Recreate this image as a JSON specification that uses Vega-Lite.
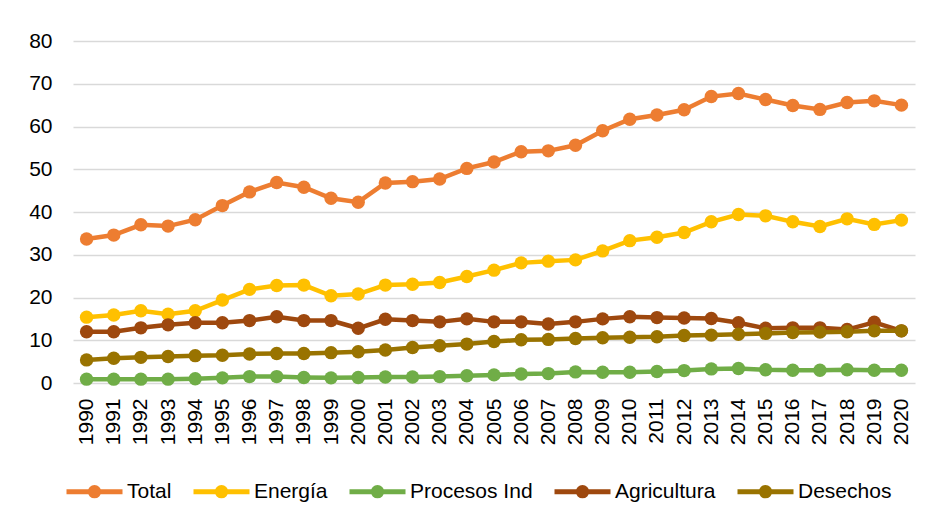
{
  "$schema": "https://vega.github.io/schema/vega-lite/v6.json",
  "width": 842,
  "height": 342,
  "autosize": {"type": "none"},
  "padding": {"left": 73, "top": 41, "right": 14, "bottom": 139},
  "background": "white",
  "config": {"view": {"stroke": null}, "font": "Liberation Sans"},
  "data": {"values": [
    {"anio":"1990","serie":"Total","valor":33.7},{"anio":"1991","serie":"Total","valor":34.6},{"anio":"1992","serie":"Total","valor":37.0},{"anio":"1993","serie":"Total","valor":36.7},{"anio":"1994","serie":"Total","valor":38.2},{"anio":"1995","serie":"Total","valor":41.5},{"anio":"1996","serie":"Total","valor":44.7},{"anio":"1997","serie":"Total","valor":46.9},{"anio":"1998","serie":"Total","valor":45.8},{"anio":"1999","serie":"Total","valor":43.2},{"anio":"2000","serie":"Total","valor":42.3},{"anio":"2001","serie":"Total","valor":46.8},{"anio":"2002","serie":"Total","valor":47.1},{"anio":"2003","serie":"Total","valor":47.7},{"anio":"2004","serie":"Total","valor":50.2},{"anio":"2005","serie":"Total","valor":51.7},{"anio":"2006","serie":"Total","valor":54.1},{"anio":"2007","serie":"Total","valor":54.3},{"anio":"2008","serie":"Total","valor":55.6},{"anio":"2009","serie":"Total","valor":59.0},{"anio":"2010","serie":"Total","valor":61.7},{"anio":"2011","serie":"Total","valor":62.7},{"anio":"2012","serie":"Total","valor":63.9},{"anio":"2013","serie":"Total","valor":67.0},{"anio":"2014","serie":"Total","valor":67.7},{"anio":"2015","serie":"Total","valor":66.3},{"anio":"2016","serie":"Total","valor":64.9},{"anio":"2017","serie":"Total","valor":64.0},{"anio":"2018","serie":"Total","valor":65.6},{"anio":"2019","serie":"Total","valor":66.0},{"anio":"2020","serie":"Total","valor":65.0},
    {"anio":"1990","serie":"Energía","valor":15.4},{"anio":"1991","serie":"Energía","valor":15.9},{"anio":"1992","serie":"Energía","valor":16.9},{"anio":"1993","serie":"Energía","valor":16.1},{"anio":"1994","serie":"Energía","valor":16.9},{"anio":"1995","serie":"Energía","valor":19.4},{"anio":"1996","serie":"Energía","valor":21.9},{"anio":"1997","serie":"Energía","valor":22.8},{"anio":"1998","serie":"Energía","valor":22.9},{"anio":"1999","serie":"Energía","valor":20.4},{"anio":"2000","serie":"Energía","valor":20.8},{"anio":"2001","serie":"Energía","valor":22.9},{"anio":"2002","serie":"Energía","valor":23.1},{"anio":"2003","serie":"Energía","valor":23.5},{"anio":"2004","serie":"Energía","valor":24.9},{"anio":"2005","serie":"Energía","valor":26.4},{"anio":"2006","serie":"Energía","valor":28.1},{"anio":"2007","serie":"Energía","valor":28.5},{"anio":"2008","serie":"Energía","valor":28.8},{"anio":"2009","serie":"Energía","valor":30.9},{"anio":"2010","serie":"Energía","valor":33.3},{"anio":"2011","serie":"Energía","valor":34.1},{"anio":"2012","serie":"Energía","valor":35.2},{"anio":"2013","serie":"Energía","valor":37.7},{"anio":"2014","serie":"Energía","valor":39.4},{"anio":"2015","serie":"Energía","valor":39.1},{"anio":"2016","serie":"Energía","valor":37.7},{"anio":"2017","serie":"Energía","valor":36.6},{"anio":"2018","serie":"Energía","valor":38.4},{"anio":"2019","serie":"Energía","valor":37.1},{"anio":"2020","serie":"Energía","valor":38.1},
    {"anio":"1990","serie":"Procesos Ind","valor":0.9},{"anio":"1991","serie":"Procesos Ind","valor":0.9},{"anio":"1992","serie":"Procesos Ind","valor":0.9},{"anio":"1993","serie":"Procesos Ind","valor":0.9},{"anio":"1994","serie":"Procesos Ind","valor":1.0},{"anio":"1995","serie":"Procesos Ind","valor":1.2},{"anio":"1996","serie":"Procesos Ind","valor":1.5},{"anio":"1997","serie":"Procesos Ind","valor":1.5},{"anio":"1998","serie":"Procesos Ind","valor":1.3},{"anio":"1999","serie":"Procesos Ind","valor":1.2},{"anio":"2000","serie":"Procesos Ind","valor":1.3},{"anio":"2001","serie":"Procesos Ind","valor":1.4},{"anio":"2002","serie":"Procesos Ind","valor":1.4},{"anio":"2003","serie":"Procesos Ind","valor":1.5},{"anio":"2004","serie":"Procesos Ind","valor":1.7},{"anio":"2005","serie":"Procesos Ind","valor":1.9},{"anio":"2006","serie":"Procesos Ind","valor":2.1},{"anio":"2007","serie":"Procesos Ind","valor":2.2},{"anio":"2008","serie":"Procesos Ind","valor":2.6},{"anio":"2009","serie":"Procesos Ind","valor":2.5},{"anio":"2010","serie":"Procesos Ind","valor":2.5},{"anio":"2011","serie":"Procesos Ind","valor":2.7},{"anio":"2012","serie":"Procesos Ind","valor":2.9},{"anio":"2013","serie":"Procesos Ind","valor":3.3},{"anio":"2014","serie":"Procesos Ind","valor":3.4},{"anio":"2015","serie":"Procesos Ind","valor":3.1},{"anio":"2016","serie":"Procesos Ind","valor":3.0},{"anio":"2017","serie":"Procesos Ind","valor":3.0},{"anio":"2018","serie":"Procesos Ind","valor":3.1},{"anio":"2019","serie":"Procesos Ind","valor":3.0},{"anio":"2020","serie":"Procesos Ind","valor":3.0},
    {"anio":"1990","serie":"Agricultura","valor":12.0},{"anio":"1991","serie":"Agricultura","valor":12.0},{"anio":"1992","serie":"Agricultura","valor":12.9},{"anio":"1993","serie":"Agricultura","valor":13.6},{"anio":"1994","serie":"Agricultura","valor":14.1},{"anio":"1995","serie":"Agricultura","valor":14.1},{"anio":"1996","serie":"Agricultura","valor":14.6},{"anio":"1997","serie":"Agricultura","valor":15.5},{"anio":"1998","serie":"Agricultura","valor":14.6},{"anio":"1999","serie":"Agricultura","valor":14.6},{"anio":"2000","serie":"Agricultura","valor":12.8},{"anio":"2001","serie":"Agricultura","valor":14.9},{"anio":"2002","serie":"Agricultura","valor":14.6},{"anio":"2003","serie":"Agricultura","valor":14.3},{"anio":"2004","serie":"Agricultura","valor":15.0},{"anio":"2005","serie":"Agricultura","valor":14.3},{"anio":"2006","serie":"Agricultura","valor":14.3},{"anio":"2007","serie":"Agricultura","valor":13.8},{"anio":"2008","serie":"Agricultura","valor":14.3},{"anio":"2009","serie":"Agricultura","valor":15.0},{"anio":"2010","serie":"Agricultura","valor":15.5},{"anio":"2011","serie":"Agricultura","valor":15.3},{"anio":"2012","serie":"Agricultura","valor":15.2},{"anio":"2013","serie":"Agricultura","valor":15.1},{"anio":"2014","serie":"Agricultura","valor":14.1},{"anio":"2015","serie":"Agricultura","valor":12.8},{"anio":"2016","serie":"Agricultura","valor":12.9},{"anio":"2017","serie":"Agricultura","valor":12.9},{"anio":"2018","serie":"Agricultura","valor":12.5},{"anio":"2019","serie":"Agricultura","valor":14.2},{"anio":"2020","serie":"Agricultura","valor":12.2},
    {"anio":"1990","serie":"Desechos","valor":5.4},{"anio":"1991","serie":"Desechos","valor":5.8},{"anio":"1992","serie":"Desechos","valor":6.0},{"anio":"1993","serie":"Desechos","valor":6.2},{"anio":"1994","serie":"Desechos","valor":6.4},{"anio":"1995","serie":"Desechos","valor":6.5},{"anio":"1996","serie":"Desechos","valor":6.8},{"anio":"1997","serie":"Desechos","valor":6.9},{"anio":"1998","serie":"Desechos","valor":6.9},{"anio":"1999","serie":"Desechos","valor":7.1},{"anio":"2000","serie":"Desechos","valor":7.3},{"anio":"2001","serie":"Desechos","valor":7.7},{"anio":"2002","serie":"Desechos","valor":8.3},{"anio":"2003","serie":"Desechos","valor":8.7},{"anio":"2004","serie":"Desechos","valor":9.1},{"anio":"2005","serie":"Desechos","valor":9.7},{"anio":"2006","serie":"Desechos","valor":10.1},{"anio":"2007","serie":"Desechos","valor":10.2},{"anio":"2008","serie":"Desechos","valor":10.4},{"anio":"2009","serie":"Desechos","valor":10.6},{"anio":"2010","serie":"Desechos","valor":10.7},{"anio":"2011","serie":"Desechos","valor":10.8},{"anio":"2012","serie":"Desechos","valor":11.1},{"anio":"2013","serie":"Desechos","valor":11.2},{"anio":"2014","serie":"Desechos","valor":11.4},{"anio":"2015","serie":"Desechos","valor":11.6},{"anio":"2016","serie":"Desechos","valor":11.8},{"anio":"2017","serie":"Desechos","valor":11.9},{"anio":"2018","serie":"Desechos","valor":12.0},{"anio":"2019","serie":"Desechos","valor":12.2},{"anio":"2020","serie":"Desechos","valor":12.2}
  ]},
  "encoding": {
    "x": {
      "field": "anio", "type": "ordinal",
      "scale": {"type": "point", "padding": 0.5},
      "axis": {"title": null, "labelAngle": -90, "domain": false, "ticks": false, "grid": false, "labelPadding": 15, "labelFontSize": 21, "labelColor": "#000000", "labelFont": "Liberation Sans"}
    },
    "y": {
      "field": "valor", "type": "quantitative",
      "scale": {"domain": [0, 80], "nice": false},
      "axis": {"title": null, "values": [0, 10, 20, 30, 40, 50, 60, 70, 80], "domain": false, "ticks": false, "grid": true, "gridColor": "#d9d9d9", "gridWidth": 1.3, "labelPadding": 21, "labelFontSize": 21, "labelColor": "#000000", "labelFont": "Liberation Sans"}
    },
    "color": {
      "field": "serie", "type": "nominal",
      "scale": {"domain": ["Total", "Energía", "Procesos Ind", "Agricultura", "Desechos"], "range": ["#ED7D31", "#FFC000", "#70AD47", "#9E480E", "#997300"]},
      "legend": {
        "title": null, "orient": "none", "legendX": -9, "legendY": 420, "direction": "horizontal",
        "symbolType": "M-1,0L1,0M0.15,0A0.15,0.15,0,1,1,-0.15,0A0.15,0.15,0,1,1,0.15,0Z",
        "symbolSize": 3136, "symbolStrokeWidth": 5, "symbolOpacity": 1,
        "labelFontSize": 21, "labelFont": "Liberation Sans", "labelColor": "#000000", "labelOffset": 2, "columnPadding": 11, "labelLimit": 300,
        "encode": {"symbols": {"update": {"fill": {"scale": "color", "field": "value"}, "stroke": {"scale": "color", "field": "value"}}}}
      }
    }
  },
  "layer": [
    {"mark": {"type": "line", "strokeWidth": 4.5}},
    {"mark": {"type": "point", "filled": true, "size": 180, "opacity": 1}}
  ]
}
